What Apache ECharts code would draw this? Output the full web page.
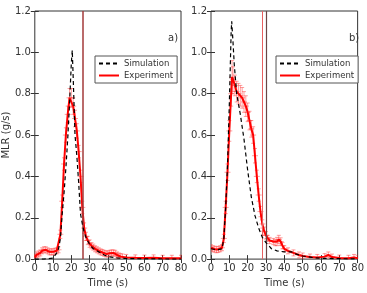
<!DOCTYPE html>
<html>
<head>
<meta charset="utf-8">
<script src="https://cdn.jsdelivr.net/npm/echarts@6/dist/echarts.min.js"></script>
<style>
  html, body { margin: 0; padding: 0; background: #fff; }
  #chart { width: 367px; height: 293px; }
</style>
</head>
<body>
<div id="chart"></div>
<script>
// x ticks / y ticks
var timeTicks = [0, 10, 20, 30, 40, 50, 60, 70, 80];
var mlrTicks = [0.0, 0.2, 0.4, 0.6, 0.8, 1.0, 1.2];

// panel a) simulation [t, MLR]
var simA = [[0,0.0],[5,0.0],[10,0.005],[12,0.03],[13,0.05],[14,0.1],[15,0.22],[16,0.32],[17,0.44],
  [18,0.58],[19,0.75],[20,0.95],[20.5,1.01],[21,0.88],[22,0.6],[23,0.5],[24,0.37],[25,0.22],
  [26,0.17],[27,0.13],[28,0.105],[30,0.07],[32,0.05],[35,0.035],[38,0.02],[40,0.012],
  [45,0.006],[50,0.003],[60,0.001],[80,0.0]];
// panel a) experiment [t, MLR, error]
var expA = [[0,0.01,0.005],[1,0.02,0.005],[2,0.025,0.006],[3,0.03,0.006],[4,0.04,0.008],[5,0.045,0.008],
  [6,0.045,0.008],[7,0.04,0.008],[8,0.035,0.006],[9,0.035,0.006],[10,0.035,0.006],[11,0.038,0.006],
  [12,0.04,0.006],[13,0.045,0.01],[14,0.12,0.02],[15,0.28,0.03],[16,0.46,0.03],[17,0.6,0.035],
  [18,0.7,0.04],[19,0.78,0.045],[20,0.78,0.045],[21,0.74,0.04],[22,0.68,0.04],[23,0.62,0.035],
  [24,0.52,0.03],[25,0.4,0.03],[26,0.25,0.03],[27,0.15,0.025],[28,0.11,0.02],[29,0.09,0.02],
  [30,0.075,0.018],[31,0.065,0.015],[32,0.058,0.012],[33,0.05,0.01],[34,0.045,0.01],[35,0.04,0.01],
  [36,0.035,0.008],[37,0.032,0.008],[38,0.028,0.008],[39,0.025,0.006],[40,0.025,0.006],[41,0.028,0.006],
  [42,0.03,0.008],[43,0.03,0.008],[44,0.028,0.006],[45,0.02,0.005],[46,0.015,0.004],[47,0.012,0.004],
  [48,0.01,0.003],[50,0.008,0.003],[55,0.006,0.003],[60,0.005,0.003],[65,0.006,0.003],[70,0.004,0.002],
  [75,0.004,0.002],[80,0.004,0.002]];

// panel b) simulation
var simB = [[0,0.05],[3,0.045],[6,0.05],[7,0.1],[8,0.25],[9,0.45],[10,0.75],[11,1.1],[11.3,1.15],
  [12,1.05],[12.7,0.94],[14,0.8],[16,0.7],[18,0.58],[20,0.43],[22,0.3],[24,0.21],[26,0.15],
  [28,0.105],[30,0.08],[33,0.05],[36,0.04],[40,0.035],[44,0.035],[46,0.025],[50,0.015],
  [55,0.008],[60,0.004],[70,0.002],[80,0.001]];
// panel b) experiment
var expB = [[0,0.055,0.01],[1,0.05,0.01],[2,0.048,0.01],[3,0.045,0.01],[4,0.047,0.01],[5,0.05,0.01],
  [6,0.055,0.012],[7,0.1,0.02],[8,0.25,0.03],[9,0.42,0.04],[10,0.62,0.05],[11,0.8,0.06],[11.5,0.88,0.08],
  [12,0.87,0.06],[13,0.84,0.05],[14,0.81,0.05],[15,0.8,0.05],[16,0.79,0.05],[17,0.78,0.05],
  [18,0.76,0.05],[19,0.74,0.05],[20,0.71,0.045],[21,0.67,0.045],[22,0.63,0.04],[23,0.6,0.04],
  [24,0.5,0.035],[25,0.4,0.03],[26,0.31,0.03],[27,0.23,0.025],[28,0.17,0.02],[29,0.135,0.02],
  [30,0.115,0.018],[31,0.1,0.015],[32,0.09,0.015],[34,0.085,0.015],[35,0.08,0.015],[36,0.085,0.02],
  [37,0.095,0.02],[38,0.085,0.018],[39,0.065,0.015],[40,0.05,0.01],[42,0.04,0.008],[45,0.03,0.006],
  [48,0.02,0.005],[50,0.015,0.004],[54,0.01,0.003],[58,0.008,0.003],[62,0.012,0.004],[64,0.02,0.006],
  [66,0.01,0.004],[70,0.005,0.003],[75,0.004,0.002],[78,0.008,0.003],[80,0.004,0.002]];

var vlineA = [26];
var vlineB = [28, 29.9];

var FONT = 'DejaVu Sans';
var chart = echarts.init(document.getElementById('chart'));

function xAx(grid, pos, showLabel, name) {
  return {
    type: 'value', gridIndex: grid, position: pos, min: 0, max: 80, interval: 10,
    name: name || '', nameLocation: 'middle', nameGap: 14,
    nameTextStyle: { fontFamily: FONT, fontSize: 10, color: '#333' },
    axisLine: { show: false },
    axisTick: { show: true, inside: true, length: 4, lineStyle: { color: '#333' } },
    axisLabel: { show: showLabel, fontFamily: FONT, fontSize: 10, color: '#333', margin: 4 },
    splitLine: { show: false }
  };
}
function yAx(grid, pos, showLabel, name) {
  return {
    type: 'value', gridIndex: grid, position: pos, min: 0, max: 1.2, interval: 0.2,
    name: name || '', nameLocation: 'middle', nameGap: 19,
    nameTextStyle: { fontFamily: FONT, fontSize: 10, color: '#333' },
    axisLine: { show: false },
    axisTick: { show: true, inside: true, length: 4, lineStyle: { color: '#333' } },
    axisLabel: { show: showLabel, fontFamily: FONT, fontSize: 10, color: '#333', margin: 4,
      formatter: function (v) { return v.toFixed(1); } },
    splitLine: { show: false }
  };
}

function errRender(params, api) {
  var t = api.value(0), y = api.value(1), e = api.value(2);
  var p = api.coord([t, y]);
  var hi = api.coord([t, y + e]);
  var lo = api.coord([t, Math.max(0, y - e)]);
  var top = Math.min(hi[1], p[1] - 3), bot = Math.max(lo[1], p[1] + 3);
  var st = { stroke: 'rgba(255,40,40,0.45)', lineWidth: 1 };
  return {
    type: 'group',
    children: [
      { type: 'line', shape: { x1: p[0], y1: top, x2: p[0], y2: bot }, style: st },
      { type: 'line', shape: { x1: p[0] - 3, y1: p[1], x2: p[0] + 3, y2: p[1] }, style: st },
      { type: 'line', shape: { x1: p[0] - 2, y1: top, x2: p[0] + 2, y2: top }, style: st },
      { type: 'line', shape: { x1: p[0] - 2, y1: bot, x2: p[0] + 2, y2: bot }, style: st }
    ]
  };
}

function expSeries(grid, data) {
  return [{
    name: 'Experiment errors', type: 'custom', xAxisIndex: grid * 2, yAxisIndex: grid * 2,
    renderItem: errRender, data: data, clip: true, silent: true, z: 3,
    itemStyle: { color: '#ff0000' }
  }, {
    name: 'Experiment', type: 'line', xAxisIndex: grid * 2, yAxisIndex: grid * 2,
    data: data.map(function (d) { return [d[0], d[1]]; }),
    symbol: 'none', smooth: false, z: 4,
    itemStyle: { color: '#ff0000' },
    lineStyle: { color: '#ff0000', width: 2 }
  }];
}

function simSeries(grid, data, lines) {
  return {
    name: 'Simulation', type: 'line', xAxisIndex: grid * 2, yAxisIndex: grid * 2,
    data: data, symbol: 'none', z: 5,
    itemStyle: { color: '#000' },
    lineStyle: { color: '#000', width: 1.2, type: [4, 3] },
    markLine: {
      silent: true, symbol: 'none', label: { show: false },
      data: lines
    }
  };
}

var legendBase = {
  orient: 'vertical', data: ['Simulation', 'Experiment'],
  backgroundColor: '#fff', borderColor: '#555', borderWidth: 1, borderRadius: 0,
  padding: [3, 4, 3, 3], itemGap: 3, itemWidth: 20, itemHeight: 8,
  itemStyle: { opacity: 0 },
  textStyle: { fontFamily: FONT, fontSize: 8.5, color: '#333' },
  selectedMode: false
};

var option = {
  animation: false,
  grid: [
    { left: 29.5, top: 11, width: 151.5, height: 256, show: true, borderColor: '#333', borderWidth: 1, backgroundColor: 'transparent' },
    { left: 211, top: 11, width: 151, height: 256, show: true, borderColor: '#333', borderWidth: 1, backgroundColor: 'transparent' }
  ],
  xAxis: [xAx(0, 'bottom', true, 'Time (s)'), xAx(0, 'top', false),
          xAx(1, 'bottom', true, 'Time (s)'), xAx(1, 'top', false)],
  yAxis: [yAx(0, 'left', true, 'MLR (g/s)'), yAx(0, 'right', false),
          yAx(1, 'left', true), yAx(1, 'right', false)],
  legend: [
    Object.assign({ left: 95, top: 56 }, legendBase),
    Object.assign({ left: 276, top: 56 }, legendBase)
  ],
  title: [
    { text: 'a)', left: 163, top: 28, textStyle: { fontFamily: FONT, fontSize: 10, fontWeight: 'normal', color: '#333' } },
    { text: 'b)', left: 344, top: 28, textStyle: { fontFamily: FONT, fontSize: 10, fontWeight: 'normal', color: '#333' } }
  ],
  series: [].concat(
    expSeries(0, expA),
    [simSeries(0, simA, [{ xAxis: vlineA[0], lineStyle: { color: '#a33a3a', width: 1.5, type: 'solid' } }])],
    expSeries(1, expB),
    [simSeries(1, simB, [
      { xAxis: vlineB[0], lineStyle: { color: '#e86060', width: 1, type: 'solid' } },
      { xAxis: vlineB[1], lineStyle: { color: '#6a4545', width: 1.2, type: 'solid' } }
    ])]
  )
};
chart.setOption(option);
</script>
</body>
</html>
